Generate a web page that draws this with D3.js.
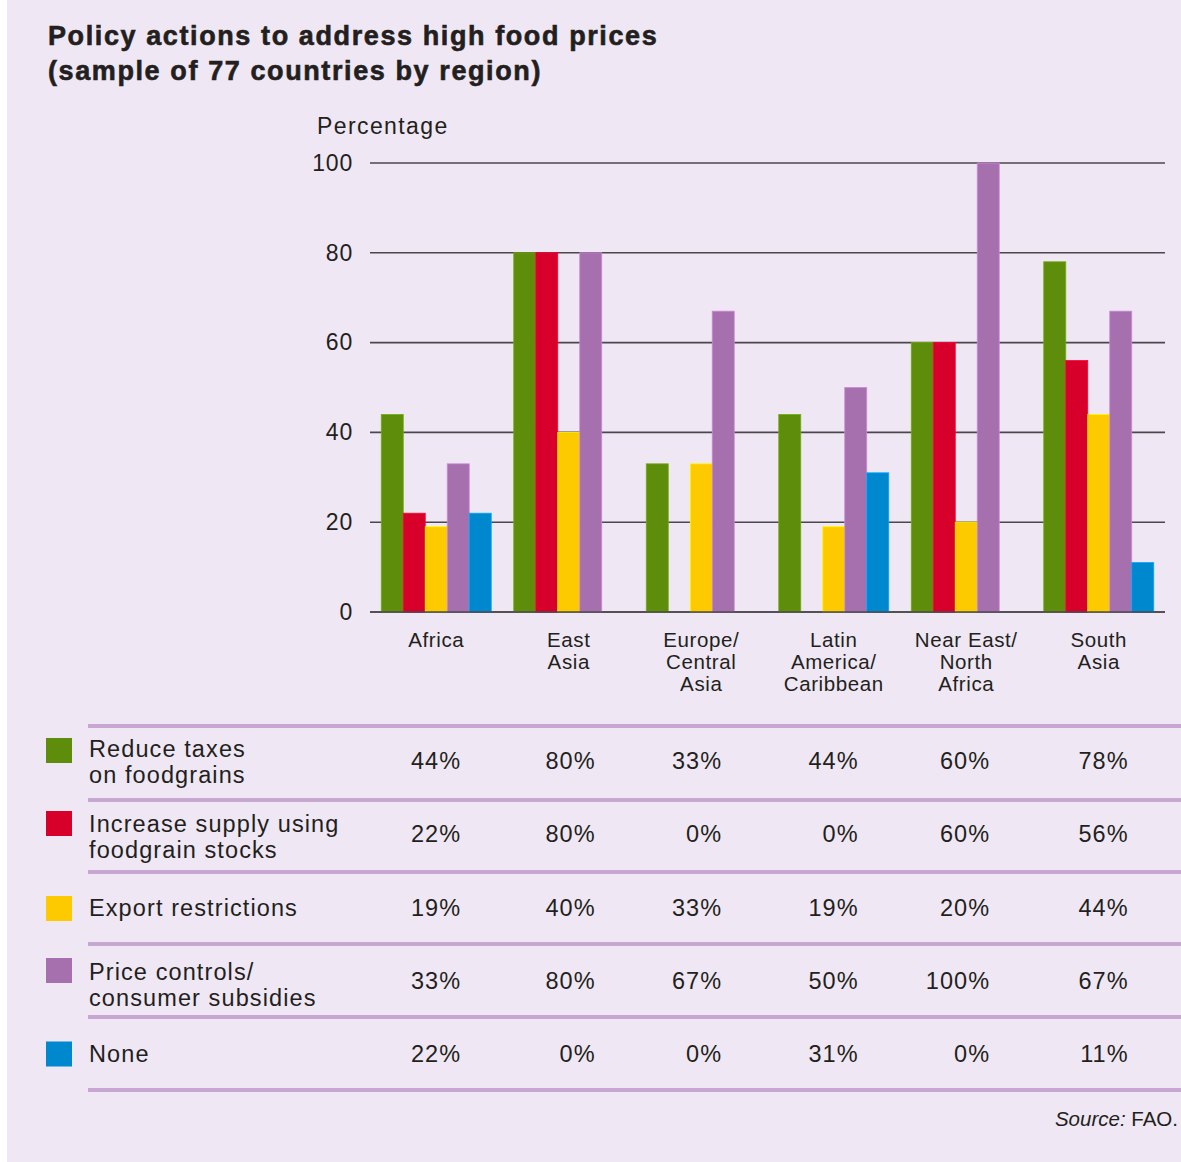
<!DOCTYPE html>
<html><head><meta charset="utf-8">
<script src="https://cdn.jsdelivr.net/npm/d3@7"></script>
<style>
html,body{margin:0;padding:0;background:#fff;}
svg{display:block;font-family:"Liberation Sans",Arial,sans-serif;}
</style></head>
<body>
<script>
const regions = [["Africa"],["East","Asia"],["Europe/","Central","Asia"],["Latin","America/","Caribbean"],["Near East/","North","Africa"],["South","Asia"]];
const regionKeys = ["Africa","East Asia","Europe/Central Asia","Latin America/Caribbean","Near East/North Africa","South Asia"];
const seriesNames = [["Reduce taxes","on foodgrains"],["Increase supply using","foodgrain stocks"],["Export restrictions"],["Price controls/","consumer subsidies"],["None"]];
const seriesColors = ["#5e8c0b","#d6002b","#fdca00","#a66fae","#0088cf"];
const reduceTaxes = [44,80,33,44,60,78];
const increaseSupply = [22,80,0,0,60,56];
const exportRestrictions = [19,40,33,19,20,44];
const priceControls = [33,80,67,50,100,67];
const none = [22,0,0,31,0,11];
const yTicks = [0,20,40,60,80,100];
const series = [reduceTaxes,increaseSupply,exportRestrictions,priceControls,none];

const W=1181,H=1162;
const svg=d3.select("body").append("svg").attr("width",W).attr("height",H);
svg.append("rect").attr("x",7).attr("y",0).attr("width",W-7).attr("height",H).attr("fill","#efe7f3");

const txt="#231f20";
// title
[["Policy actions to address high food prices",45],["(sample of 77 countries by region)",80]].forEach(([t,yy])=>{
  svg.append("text").attr("x",48).attr("y",yy).attr("font-size",27).attr("font-weight","bold")
    .attr("letter-spacing","1.6px").attr("fill",txt).attr("stroke",txt).attr("stroke-width",0.6).text(t);
});
svg.append("text").attr("x",317).attr("y",134).attr("font-size",23).attr("letter-spacing","1.4px").attr("fill",txt).text("Percentage");

const y=d3.scaleLinear().domain([0,100]).range([612,163]);
const x0=d3.scaleBand().domain(regionKeys).range([370,1165]).paddingInner(0.17).paddingOuter(0.085);
const x1=d3.scaleBand().domain(d3.range(5)).range([0,x0.bandwidth()]);

// gridlines + axis
const yAxis=d3.axisLeft(y).tickValues(yTicks).tickSize(0).tickPadding(17);
const ax=svg.append("g").attr("transform","translate(370,0)").call(yAxis);
ax.select(".domain").remove();
ax.selectAll("text").attr("font-size",23).attr("letter-spacing","0.8px").attr("fill",txt).attr("font-family","Liberation Sans, Arial, sans-serif");
svg.append("g").selectAll("line").data(yTicks).join("line")
  .attr("x1",370).attr("x2",1165).attr("y1",d=>y(d)).attr("y2",d=>y(d))
  .attr("stroke","#4a474d").attr("stroke-width",1.6);

// bars
const g=svg.append("g");
regionKeys.forEach((r,ri)=>{
  series.forEach((s,si)=>{
    const v=s[ri];
    if(v<=0) return;
    g.append("rect").attr("x",x0(r)+x1(si)).attr("width",x1.bandwidth())
      .attr("y",y(v)).attr("height",y(0)-y(v))
      .attr("fill",seriesColors[si]).attr("stroke",d3.color(seriesColors[si]).brighter(0.6)).attr("stroke-width",0.8);
  });
});
svg.append("line").attr("x1",370).attr("x2",1165).attr("y1",y(0)).attr("y2",y(0)).attr("stroke","#4a474d").attr("stroke-width",1.6);

// category labels
regionKeys.forEach((r,ri)=>{
  const t=svg.append("text").attr("text-anchor","middle").attr("font-size",20.5).attr("letter-spacing","0.6px").attr("fill",txt);
  regions[ri].forEach((ln,li)=>{
    t.append("tspan").attr("x",x0(r)+x0.bandwidth()/2).attr("y",647+li*22).text(ln);
  });
});

// table
const rowTops=[726,800,872,944,1017,1090];
const labelOffsets=[31,32,0,36,0];
const valueOffsets=[43,42,0,45,0];
const squareOffsets=[12,11,0,14,0];
const colShift=[25,27,21,25,24,30];
svg.append("g").selectAll("line").data(rowTops).join("line")
  .attr("x1",88).attr("x2",W).attr("y1",d=>d).attr("y2",d=>d)
  .attr("stroke","#c7a6d2").attr("stroke-width",4);

seriesNames.forEach((nm,si)=>{
  const top=rowTops[si], bot=rowTops[si+1], mid=(top+bot)/2;
  const two=nm.length>1;
  const sqY= two? top+squareOffsets[si] : mid-12;
  svg.append("rect").attr("x",46).attr("y",sqY).attr("width",26).attr("height",25).attr("fill",seriesColors[si]);
  const t=svg.append("text").attr("font-size",23.5).attr("letter-spacing","1.1px").attr("fill",txt);
  nm.forEach((ln,li)=>{
    t.append("tspan").attr("x",89).attr("y", two? top+labelOffsets[si]+li*26 : mid+8).text(ln);
  });
  regionKeys.forEach((r,ri)=>{
    svg.append("text").attr("x",x0(r)+x0.bandwidth()/2+colShift[ri]).attr("y",two? top+valueOffsets[si]: mid+8)
      .attr("text-anchor","end").attr("font-size",23.5).attr("letter-spacing","1.1px").attr("fill",txt).text(series[si][ri]+"%");
  });
});

// source
const s=svg.append("text").attr("x",1178).attr("y",1126).attr("text-anchor","end").attr("font-size",20.5).attr("fill",txt);
s.append("tspan").attr("font-style","italic").text("Source:");
s.append("tspan").text(" FAO.");
</script>
</body></html>
